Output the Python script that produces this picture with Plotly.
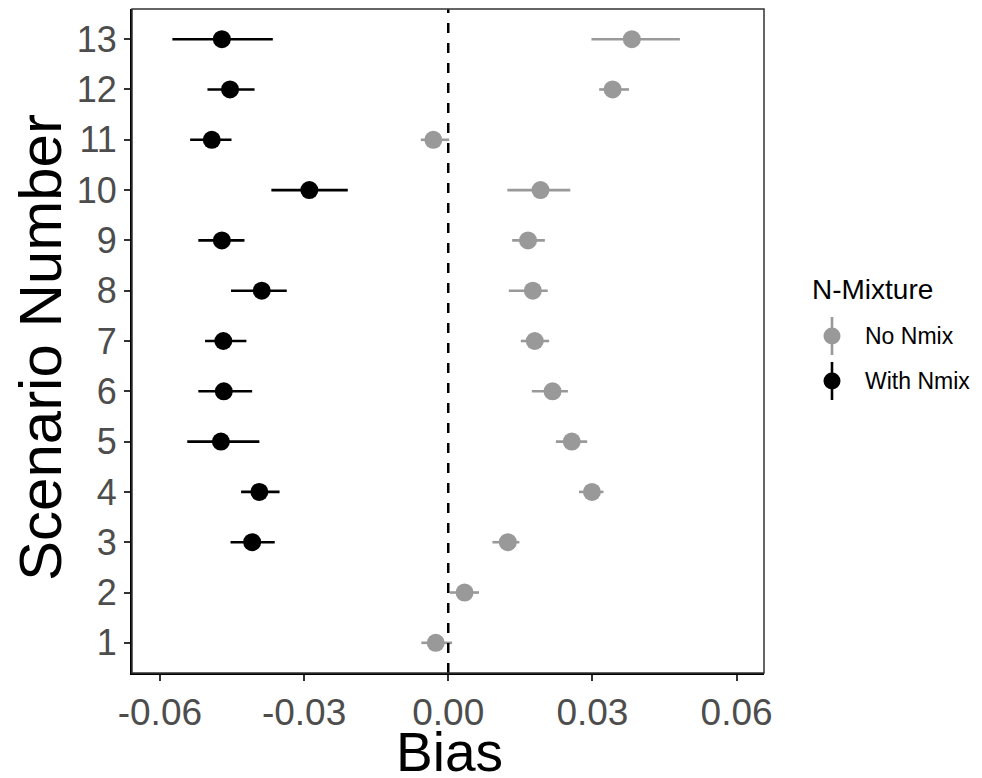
import plotly.graph_objects as go

# ---------------- data ----------------
scen_with = [3, 4, 5, 6, 7, 8, 9, 10, 11, 12, 13]
with_mean = [-0.0408, -0.0393, -0.0473, -0.0467, -0.0468, -0.0388, -0.0471, -0.0289, -0.0492, -0.0454, -0.0471]
with_lo   = [-0.0453, -0.0431, -0.0543, -0.0520, -0.0506, -0.0452, -0.0520, -0.0368, -0.0537, -0.0501, -0.0574]
with_hi   = [-0.0361, -0.0351, -0.0393, -0.0408, -0.0420, -0.0336, -0.0424, -0.0209, -0.0451, -0.0403, -0.0365]

scen_no = [1, 2, 3, 4, 5, 6, 7, 8, 9, 10, 11, 12, 13]
no_mean = [-0.0026, 0.0034, 0.0124, 0.0299, 0.0257, 0.0217, 0.0180, 0.0176, 0.0166, 0.0192, -0.0031, 0.0342, 0.0382]
no_lo   = [-0.0056, 0.0003, 0.0092, 0.0272, 0.0224, 0.0174, 0.0151, 0.0126, 0.0133, 0.0123, -0.0057, 0.0314, 0.0298]
no_hi   = [0.0008, 0.0064, 0.0148, 0.0323, 0.0289, 0.0249, 0.0210, 0.0207, 0.0201, 0.0254, 0.0002, 0.0376, 0.0482]

x_tickvals = [-0.06, -0.03, 0.0, 0.03, 0.06]
x_ticktext = ["-0.06", "-0.03", "0.00", "0.03", "0.06"]
y_tickvals = list(range(1, 14))

legend_title = "N-Mixture"
legend_labels = ["No Nmix", "With Nmix"]
legend_colors = ["#999999", "#000000"]

# ---------------- layout geometry ----------------
OFF = 8  # page body margin offset
W, H = 982 - OFF, 778 - OFF
PL, PR, PT, PB = 132, 764, 9, 673  # panel box in window pixels
FONT = "Liberation Sans, Arial, sans-serif"


def px_x(p):
    return (p - PL) / (PR - PL)


def px_y(p):
    return (PB - p) / (PB - PT)


def err_plus(m, h):
    return [b - a for a, b in zip(m, h)]


def err_minus(m, l):
    return [a - b for a, b in zip(m, l)]


fig = go.Figure()

fig.add_trace(go.Scatter(
    x=no_mean, y=scen_no, mode="markers", name=legend_labels[0],
    marker=dict(size=18, color=legend_colors[0]),
    error_x=dict(type="data", symmetric=False,
                 array=err_plus(no_mean, no_hi),
                 arrayminus=err_minus(no_mean, no_lo),
                 width=0, thickness=2.6, color=legend_colors[0]),
    showlegend=False,
))
fig.add_trace(go.Scatter(
    x=with_mean, y=scen_with, mode="markers", name=legend_labels[1],
    marker=dict(size=18, color=legend_colors[1]),
    error_x=dict(type="data", symmetric=False,
                 array=err_plus(with_mean, with_hi),
                 arrayminus=err_minus(with_mean, with_lo),
                 width=0, thickness=2.6, color=legend_colors[1]),
    showlegend=False,
))

shapes = []
# dashed zero line
shapes.append(dict(type="line", xref="x", yref="paper", x0=0, x1=0, y0=0, y1=1,
                   line=dict(color="black", width=2.5, dash="10px,10px")))
# panel border
shapes.append(dict(type="rect", xref="paper", yref="paper", x0=0, x1=1, y0=0, y1=1,
                   line=dict(color="#333333", width=1.5), fillcolor="rgba(0,0,0,0)"))

annotations = []
# legend (manual keys: point with vertical range line)
annotations.append(dict(text=legend_title, xref="paper", yref="paper",
                        x=px_x(810), y=px_y(289), xanchor="left", yanchor="middle",
                        showarrow=False, font=dict(family=FONT, size=28, color="black")))
key_y = [336, 381]
for lab, col, ky in zip(legend_labels, legend_colors, key_y):
    shapes.append(dict(type="line", xref="paper", yref="paper",
                       xsizemode="pixel", ysizemode="pixel",
                       xanchor=px_x(832), yanchor=px_y(ky),
                       x0=0, x1=0, y0=-19, y1=19,
                       line=dict(color=col, width=2.6)))
    shapes.append(dict(type="circle", xref="paper", yref="paper",
                       xsizemode="pixel", ysizemode="pixel",
                       xanchor=px_x(832), yanchor=px_y(ky),
                       x0=-8.5, x1=8.5, y0=-8.5, y1=8.5,
                       line=dict(color=col, width=0), fillcolor=col))
    annotations.append(dict(text=lab, xref="paper", yref="paper",
                            x=px_x(863), y=px_y(ky), xanchor="left", yanchor="middle",
                            showarrow=False, font=dict(family=FONT, size=23, color="black")))

# axis titles
annotations.append(dict(text="Bias", xref="paper", yref="paper",
                        x=px_x(449), y=px_y(752), xanchor="center", yanchor="middle",
                        showarrow=False, font=dict(family=FONT, size=55, color="black")))
annotations.append(dict(text="Scenario Number", xref="paper", yref="paper",
                        x=px_x(40), y=px_y(348), xanchor="center", yanchor="middle",
                        textangle=-90, showarrow=False,
                        font=dict(family=FONT, size=60, color="black")))

fig.update_layout(
    width=W, height=H,
    margin=dict(l=PL - OFF, r=W - (PR - OFF), t=PT - OFF, b=H - (PB - OFF), pad=0),
    paper_bgcolor="white", plot_bgcolor="white",
    shapes=shapes, annotations=annotations,
    showlegend=False,
    font=dict(family=FONT),
)
fig.update_xaxes(
    range=[-0.0658, 0.0657], tickvals=x_tickvals, ticktext=x_ticktext,
    showgrid=False, zeroline=False,
    showline=True, linecolor="black", linewidth=2,
    ticks="outside", ticklen=6, tickwidth=2, tickcolor="#333333",
    tickfont=dict(family=FONT, size=37, color="#4D4D4D"),
)
fig.update_yaxes(
    range=[0.4, 13.6], tickvals=y_tickvals,
    showgrid=False, zeroline=False,
    showline=True, linecolor="black", linewidth=2,
    ticks="outside", ticklen=6, tickwidth=2, tickcolor="#333333",
    tickfont=dict(family=FONT, size=36, color="#4D4D4D"),
)

fig.write_html("out.html")
